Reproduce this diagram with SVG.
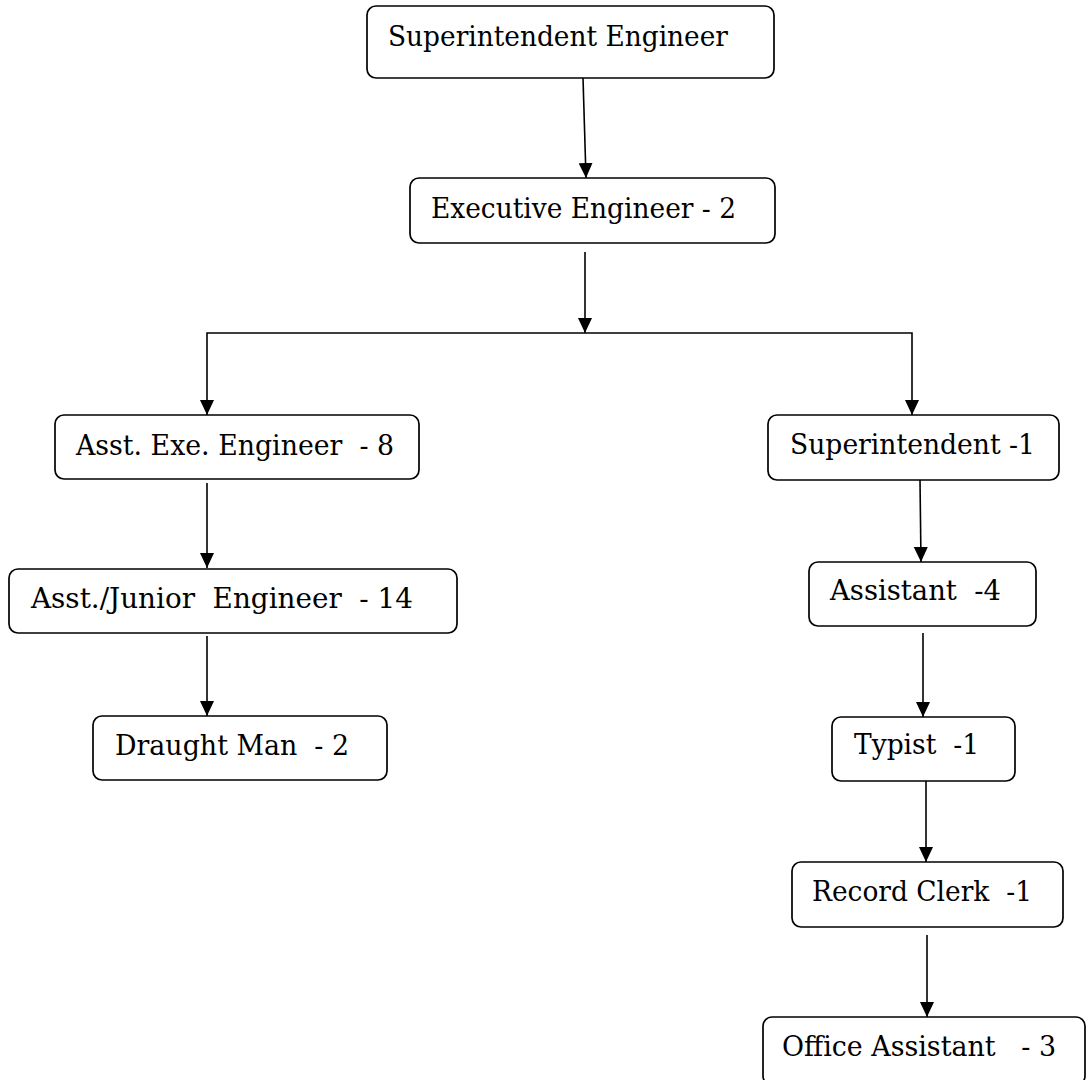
<svg xmlns="http://www.w3.org/2000/svg" width="1086" height="1080" viewBox="0 0 1086 1080">
  <style>
    .box { fill: #ffffff; stroke: #000000; stroke-width: 1.7; }
    .lbl { font-family: "DejaVu Serif", "Liberation Serif", serif; font-size: 28px; fill: #000000; white-space: pre; }
    .conn { fill: none; stroke: #000000; stroke-width: 1.6; }
  </style>
  <defs>
    <marker id="arrow" markerUnits="userSpaceOnUse" markerWidth="15" markerHeight="14" refX="15" refY="7" orient="auto">
      <path d="M0,0 L15,7 L0,14 z" fill="#000000"/>
    </marker>
  </defs>
  <rect width="1086" height="1080" fill="#ffffff"/>

  <g id="connectors">
    <path class="conn" d="M583,78 L586,178" marker-end="url(#arrow)"/>
    <path class="conn" d="M585,252 V333" marker-end="url(#arrow)"/>
    <path class="conn" d="M585,333 H207 V415" marker-end="url(#arrow)"/>
    <path class="conn" d="M585,333 H912 V415" marker-end="url(#arrow)"/>
    <path class="conn" d="M207,483 V568" marker-end="url(#arrow)"/>
    <path class="conn" d="M207,636 V716" marker-end="url(#arrow)"/>
    <path class="conn" d="M920,480 L921,562" marker-end="url(#arrow)"/>
    <path class="conn" d="M923,633 V717" marker-end="url(#arrow)"/>
    <path class="conn" d="M926,781 V862" marker-end="url(#arrow)"/>
    <path class="conn" d="M927,935 V1017" marker-end="url(#arrow)"/>
  </g>

  <g id="superintendent-engineer">
    <rect class="box" x="367" y="6" width="407" height="72" rx="9"/>
    <text class="lbl" x="388" y="46" textLength="340" lengthAdjust="spacingAndGlyphs">Superintendent Engineer</text>
  </g>
  <g id="executive-engineer">
    <rect class="box" x="410" y="178" width="365" height="65" rx="9"/>
    <text class="lbl" x="431" y="218" textLength="305" lengthAdjust="spacingAndGlyphs">Executive Engineer - 2</text>
  </g>
  <g id="asst-exe-engineer">
    <rect class="box" x="55" y="415" width="364" height="64" rx="9"/>
    <text class="lbl" x="76" y="455" textLength="318" lengthAdjust="spacingAndGlyphs">Asst. Exe. Engineer  - 8</text>
  </g>
  <g id="asst-junior-engineer">
    <rect class="box" x="9" y="569" width="448" height="64" rx="9"/>
    <text class="lbl" x="31" y="608" textLength="382" lengthAdjust="spacingAndGlyphs">Asst./Junior  Engineer  - 14</text>
  </g>
  <g id="draught-man">
    <rect class="box" x="93" y="716" width="294" height="64" rx="9"/>
    <text class="lbl" x="115" y="755" textLength="234" lengthAdjust="spacingAndGlyphs">Draught Man  - 2</text>
  </g>
  <g id="superintendent">
    <rect class="box" x="768" y="415" width="291" height="65" rx="9"/>
    <text class="lbl" x="790" y="454" textLength="245" lengthAdjust="spacingAndGlyphs">Superintendent -1</text>
  </g>
  <g id="assistant">
    <rect class="box" x="809" y="562" width="227" height="64" rx="9"/>
    <text class="lbl" x="830" y="600" textLength="171" lengthAdjust="spacingAndGlyphs">Assistant  -4</text>
  </g>
  <g id="typist">
    <rect class="box" x="832" y="717" width="183" height="64" rx="9"/>
    <text class="lbl" x="854" y="754" textLength="125" lengthAdjust="spacingAndGlyphs">Typist  -1</text>
  </g>
  <g id="record-clerk">
    <rect class="box" x="792" y="862" width="271" height="65" rx="9"/>
    <text class="lbl" x="812" y="901" textLength="220" lengthAdjust="spacingAndGlyphs">Record Clerk  -1</text>
  </g>
  <g id="office-assistant">
    <rect class="box" x="763" y="1017" width="322" height="68" rx="9"/>
    <text class="lbl" x="782" y="1056" textLength="274" lengthAdjust="spacingAndGlyphs">Office Assistant   - 3</text>
  </g>
</svg>
